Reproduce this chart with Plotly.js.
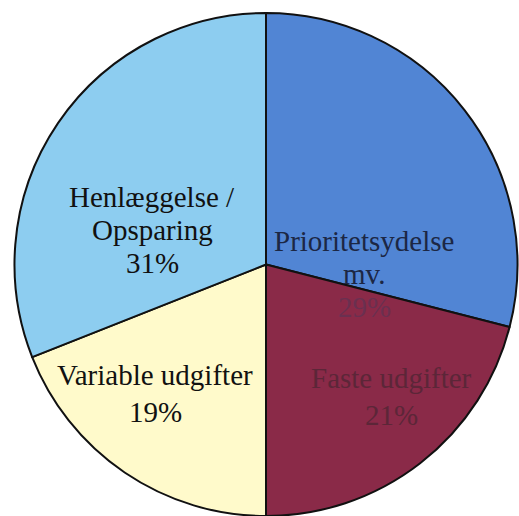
<!DOCTYPE html>
<html>
<head>
<meta charset="utf-8">
<script src="https://cdn.plot.ly/plotly-3.0.1.min.js"></script>
<style>html,body{margin:0;padding:0;background:#fff;}#chart{width:519px;height:516px;}</style>
</head>
<body>
<div id="chart"></div>
<script>
const categories = ["Prioritetsydelse mv.", "Faste udgifter", "Variable udgifter", "Henlæggelse / Opsparing"];
const values = [29, 21, 19, 31];
const sliceText = ["Prioritetsydelse<br>mv.<br>29%", "Faste udgifter<br>21%", "Variable udgifter<br>19%", "Henlæggelse /<br>Opsparing<br>31%"];
const colors = ["#5185d4", "#8a2a48", "#fffacb", "#8dcdf0"];

// label styling (positions in pixels of the 519x516 page)
const W = 519, H = 516;
const labelCenters = [[364, 274], [391, 396], [155, 393], [152, 230]];
const labelSpacing = [33, 37, 37, 33];
const labelColors = [["#1c2744", "#1c2744", "#6a3050"], ["#5c2638", "#5c2638"], ["#111", "#111"], ["#111", "#111", "#111"]];

const annotations = [];
sliceText.forEach((t, i) => {
  const lines = t.split("<br>");
  const n = lines.length;
  lines.forEach((ln, j) => {
    const py = labelCenters[i][1] + (j - (n - 1) / 2) * labelSpacing[i];
    annotations.push({
      xref: "paper", yref: "paper",
      x: labelCenters[i][0] / W, y: 1 - py / H,
      xanchor: "center", yanchor: "middle",
      text: ln, showarrow: false,
      font: {family: "Liberation Serif", size: 29, color: labelColors[i][j]}
    });
  });
});

Plotly.newPlot("chart", [{
  type: "pie",
  labels: categories,
  values: values,
  text: sliceText,
  textinfo: "none",
  hoverinfo: "label+percent",
  sort: false,
  direction: "clockwise",
  rotation: 0,
  domain: {x: [13 / W, 1], y: [0, 1 - 13 / H]},
  marker: {colors: colors, line: {color: "#111", width: 2}}
}], {
  width: W, height: H,
  margin: {l: 0, r: 0, t: 0, b: 0},
  showlegend: false,
  paper_bgcolor: "#fff",
  annotations: annotations
}, {displayModeBar: false, staticPlot: true});
</script>
</body>
</html>
